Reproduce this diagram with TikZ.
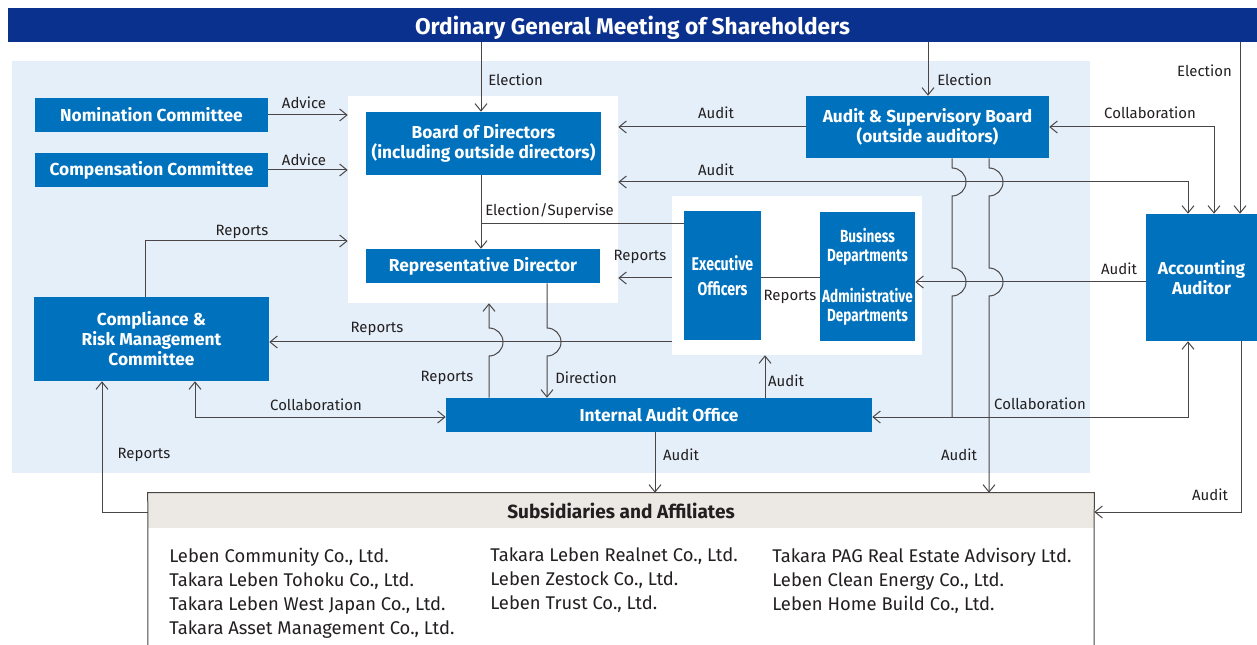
\documentclass[tikz,border=0pt]{standalone}
\usepackage{fontspec}
\setmainfont{Fira Sans}
\newfontfamily\narrowfont[FakeStretch=0.77]{Fira Sans}
\usetikzlibrary{arrows.meta,calc}
\definecolor{navy}{HTML}{0B318F}
\definecolor{boxblue}{HTML}{0071BC}
\definecolor{paleblue}{HTML}{E4EFF9}
\definecolor{linegrey}{HTML}{4A4546}
\definecolor{headgrey}{HTML}{ECE9E4}
\definecolor{txtdark}{HTML}{231F20}
\begin{document}
\begin{tikzpicture}[x=0.75pt,y=-0.75pt,
  >={Straight Barb[length=5.5pt,width=9pt]},
  sz/.style 2 args={minimum width=#1*0.75pt,minimum height=#2*0.75pt},
  bluebox/.style={fill=boxblue,text=white,inner sep=0pt,align=center,
    font=\bfseries\fontsize{13}{15}\selectfont},
  narrowbox/.style={fill=boxblue,text=white,inner sep=0pt,align=center,
    font=\narrowfont\bfseries\fontsize{13.8}{14.8}\selectfont},
  panel/.style={fill=white,inner sep=0pt},
  conn/.style={draw=linegrey,line width=0.75pt},
  arr/.style={conn,->},
  arrtwo/.style={conn,<->},
  lbl/.style={font=\fontsize{11.2}{13}\selectfont,text=txtdark,inner sep=0pt},
  listtxt/.style={font=\fontsize{13.8}{18}\selectfont,text=txtdark,inner sep=0pt,align=left}
]
\useasboundingbox (0,0) rectangle (1257,645);

% background area and white panels
\fill[paleblue] (12,61) rectangle (1090,473);
\node[panel,sz={270}{207}] (pnlA) at (483,199.5) {};
\node[panel,sz={250}{159}] (pnlB) at (797,275.5) {};

% title banner
\node[fill=navy,text=white,inner sep=0pt,sz={1249}{34},text depth=0pt,
  font=\bfseries\fontsize{17}{20}\selectfont] (gm) at (632.5,25)
  {Ordinary General Meeting of Shareholders};

% organisation boxes
\node[bluebox,sz={233}{34}] (nom) at (151.5,115) {Nomination Committee};
\node[bluebox,sz={233}{34}] (comp) at (151.5,170) {Compensation Committee};
\node[bluebox,sz={235}{63}] (board) at (483.5,143.5) {Board of Directors\\(including outside directors)};
\node[bluebox,sz={234}{34}] (rep) at (483,266) {Representative Director};
\node[bluebox,sz={243}{62}] (asb) at (927.5,127) {Audit \& Supervisory Board\\(outside auditors)};
\node[bluebox,sz={111}{127}] (acc) at (1201.5,277.5) {Accounting\\Auditor};
\node[narrowbox,sz={77}{129}] (exec) at (722.5,275.5) {Executive\\[4pt]Officers};
\node[narrowbox,sz={95}{129},font=\narrowfont\bfseries\fontsize{13.2}{14.5}\selectfont]
  (dept) at (867.5,277) {Business\\Departments\\[16pt]Administrative\\Departments};
\node[bluebox,sz={235}{84}] (crmc) at (151.5,339) {Compliance \&\\Risk Management\\Committee};
\node[bluebox,sz={426}{34}] (iao) at (659,415) {Internal Audit Office};

% subsidiaries block
\node[fill=headgrey,inner sep=0pt,sz={946}{35},text=txtdark,
  font=\bfseries\fontsize{14.3}{16}\selectfont] (subs) at (621,510.5) {Subsidiaries and Affiliates};
\draw[conn] (148,646) -- (subs.north west) -- (subs.north east) -- (1094,646);
\node[listtxt,anchor=north west] (colA) at (169,547.5)
  {Leben Community Co., Ltd.\\Takara Leben Tohoku Co., Ltd.\\Takara Leben West Japan Co., Ltd.\\Takara Asset Management Co., Ltd.};
\node[listtxt,anchor=north west] (colB) at (490,547.5)
  {Takara Leben Realnet Co., Ltd.\\Leben Zestock Co., Ltd.\\Leben Trust Co., Ltd.};
\node[listtxt,anchor=north west] (colC) at (772,547.5)
  {Takara PAG Real Estate Advisory Ltd.\\Leben Clean Energy Co., Ltd.\\Leben Home Build Co., Ltd.};

% positions of the connector runs
\coordinate (xB) at (481,0);
\coordinate (xS) at (928,0);
\coordinate (xE) at (1240,0);
\coordinate (xC) at (1214,0);
\coordinate (xU) at (1188,0);
\coordinate (xKa) at (952,0);
\coordinate (xKb) at (989,0);
\coordinate (xR) at (489,0);
\coordinate (xD) at (547,0);
\coordinate (xI) at (765,0);
\coordinate (xM) at (145,0);
\coordinate (xL) at (195,0);
\coordinate (xP) at (102,0);
\coordinate (xO) at (655,0);
\coordinate (xA) at (1241,0);
\coordinate (yT) at (0,182);
\coordinate (yES) at (0,224);
\coordinate (yRE) at (0,278);
\coordinate (yDA) at (0,282);
\coordinate (yCR) at (0,241);
\coordinate (yRC) at (0,342);
\coordinate (yCo) at (0,417);
\coordinate (yS) at (0,512);

% connectors
\draw[arr] (gm.south -| xB) -- (board.north -| xB);
\draw[arr] (gm.south -| xS) -- (asb.north -| xS);
\draw[arr] (gm.south -| xE) -- (acc.north -| xE);
\draw[arr] (nom.east) -- (pnlA.west |- nom.east);
\draw[arr] (comp.east) -- (pnlA.west |- comp.east);
\draw[arr] (asb.west) -- (pnlA.east |- asb.west);
\draw[arrtwo] (asb.east) -- (asb.east -| xC) -- (acc.north -| xC);
\draw[arrtwo] (pnlA.east |- yT) -- (xU |- yT) -- (acc.north -| xU);
\draw[arr] (board.south -| xB) -- (rep.north -| xB);
\draw[conn] (xB |- yES) -- (exec.west |- yES);
\draw[arr] (pnlB.west |- yRE) -- (pnlA.east |- yRE);
\draw[conn] (exec.east |- yRE) -- (dept.west |- yRE);
\draw[arr] (acc.west |- yDA) -- (dept.east |- yDA);
\draw[arr] (crmc.north -| xM) -- (xM |- yCR) -- (pnlA.west |- yCR);
\draw[arr] (pnlB.west |- yRC) -- (crmc.east |- yRC);
\draw[arr] (iao.north -| xR) -- ($(xR |- yRC)+(0,14)$)
  arc[start angle=90,end angle=-90,radius=14] -- (pnlA.south -| xR);
\draw[arr] (rep.south -| xD) -- ($(xD |- yRC)+(0,-14)$)
  arc[start angle=-90,end angle=90,radius=14] -- (iao.north -| xD);
\draw[arr] (iao.north -| xI) -- (pnlB.south -| xI);
\draw[arrtwo] (crmc.south -| xL) -- (xL |- yCo) -- (iao.west |- yCo);
\draw[arr] (subs.west |- yS) -- (xP |- yS) -- (crmc.south -| xP);
\draw[arr] (iao.south -| xO) -- (subs.north -| xO);
\draw[arrtwo] (iao.east |- yCo) -- (xU |- yCo) -- (acc.south -| xU);
\draw[conn] (asb.south -| xKa) -- ($(xKa |- yT)+(0,-14)$)
  arc[start angle=-90,end angle=90,radius=14] -- ($(xKa |- yDA)+(0,-14)$)
  arc[start angle=-90,end angle=90,radius=14] -- (xKa |- yCo);
\draw[arr] (asb.south -| xKb) -- ($(xKb |- yT)+(0,-14)$)
  arc[start angle=-90,end angle=90,radius=14] -- ($(xKb |- yDA)+(0,-14)$)
  arc[start angle=-90,end angle=90,radius=14] -- (subs.north -| xKb);
\draw[arr] (acc.south -| xA) -- (xA |- yS) -- (subs.east |- yS);

% connector labels
\node[lbl,anchor=west] (lbA) at (488,80) {Election};
\node[lbl,anchor=west] (lbB) at (937,80) {Election};
\node[lbl,anchor=east] (lbC) at (1232,71) {Election};
\node[lbl] (lbD) at (304,103) {Advice};
\node[lbl] (lbE) at (304,160) {Advice};
\node[lbl] (lbF) at (716,113) {Audit};
\node[lbl] (lbG) at (716,170) {Audit};
\node[lbl] (lbH) at (1150,113) {Collaboration};
\node[lbl,anchor=west] (lbI) at (485,211) {Election/Supervise};
\node[lbl] (lbJ) at (640,257) {Reports};
\node[lbl] (lbK) at (790,297) {Reports};
\node[lbl] (lbL) at (1119,269) {Audit};
\node[lbl] (lbM) at (242,232) {Reports};
\node[lbl] (lbN) at (377,329) {Reports};
\node[lbl] (lbO) at (447,378) {Reports};
\node[lbl] (lbP) at (586,378) {Direction};
\node[lbl] (lbQ) at (786,381) {Audit};
\node[lbl] (lbR) at (316,405) {Collaboration};
\node[lbl] (lbS) at (1040,404) {Collaboration};
\node[lbl] (lbT) at (144,455) {Reports};
\node[lbl] (lbU) at (681,455) {Audit};
\node[lbl] (lbV) at (959,455) {Audit};
\node[lbl] (lbW) at (1210,495) {Audit};
\end{tikzpicture}
\end{document}
